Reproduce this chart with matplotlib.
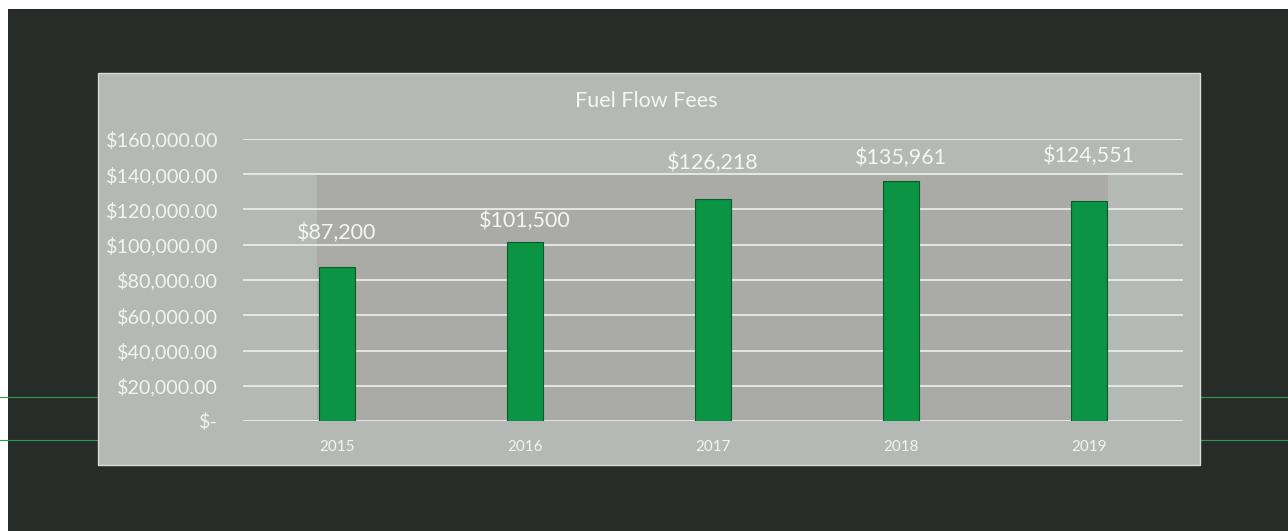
import matplotlib.pyplot as plt
from matplotlib.patches import Rectangle
from matplotlib.lines import Line2D
from matplotlib.ticker import FuncFormatter

years = ['2015', '2016', '2017', '2018', '2019']
fees = [87200, 101500, 126218, 135961, 124551]
bar_labels = ['$87,200', '$101,500', '$126,218', '$135,961', '$124,551']
label_offsets = [25, 15, 26, 17, 33]  # points from bar top to label centre

W, H = 1288, 531
fig = plt.figure(figsize=(W / 100, H / 100), dpi=100, facecolor='#282c29')

# scan border bits
fig.patches.append(Rectangle((0, 1 - 9 / H), 1, 9 / H, transform=fig.transFigure,
                             facecolor='white', edgecolor='none', zorder=0))
fig.patches.append(Rectangle((0, 0), 8 / W, 1, transform=fig.transFigure,
                             facecolor='white', edgecolor='none', zorder=0))
for yy in [397, 440]:
    fig.lines.append(Line2D([0, 1], [1 - yy / H] * 2, transform=fig.transFigure,
                            color='#2f9a4a', lw=0.8, zorder=0.5))

# chart panel
px0, px1, py0, py1 = 98, 1200, 73, 465
fig.patches.append(Rectangle((px0 / W, 1 - py1 / H), (px1 - px0) / W, (py1 - py0) / H,
                             transform=fig.transFigure, facecolor='#b4b9b6',
                             edgecolor='#d8dbd8', lw=1, zorder=1))

ax = fig.add_axes([243 / W, 1 - 421 / H, (1183 - 243) / W, (421 - 139) / H])
ax.set_facecolor('none')
ax.set_zorder(2)

# darker plot-area tone seen in the scan
ax.add_patch(Rectangle((0.079, 0.0), 0.841, 0.872, transform=ax.transAxes,
                       facecolor='#aaaba6', edgecolor='none', zorder=0))

x = range(len(years))
bars = ax.bar(x, fees, width=0.19, color='#0b9444', edgecolor='#0a5a2c',
              linewidth=0.8, zorder=3)

for b, lab, off in zip(bars, bar_labels, label_offsets):
    ax.annotate(lab, (b.get_x() + b.get_width() / 2, b.get_height()),
                xytext=(0, off), textcoords='offset points', ha='center', va='center',
                fontsize=15.5, color='#f4f6f4', family='Lato')

ax.set_xlim(-0.5, 4.5)
ax.set_ylim(0, 160000)
ax.set_yticks(range(0, 160001, 20000))
ax.yaxis.set_major_formatter(FuncFormatter(lambda v, p: '$-' if v == 0 else f'${v:,.2f}'))
ax.set_xticks(list(x))
ax.set_xticklabels(years)
ax.grid(axis='y', color='#eef0ee', lw=1.2, zorder=1)
ax.set_axisbelow(True)
for s in ax.spines.values():
    s.set_visible(False)
ax.tick_params(axis='y', length=0, pad=18, labelsize=14.2, labelcolor='#f2f4f2')
ax.tick_params(axis='x', length=0, pad=14, labelsize=11, labelcolor='#f2f4f2')
for t in ax.get_yticklabels() + ax.get_xticklabels():
    t.set_family('Lato')

fig.text(646 / W, 1 - 101 / H, 'Fuel Flow Fees', ha='center', va='center',
         fontsize=15.5, color='#f4f6f4', family='Lato')

fig.savefig('out.png', dpi=100, facecolor=fig.get_facecolor())
